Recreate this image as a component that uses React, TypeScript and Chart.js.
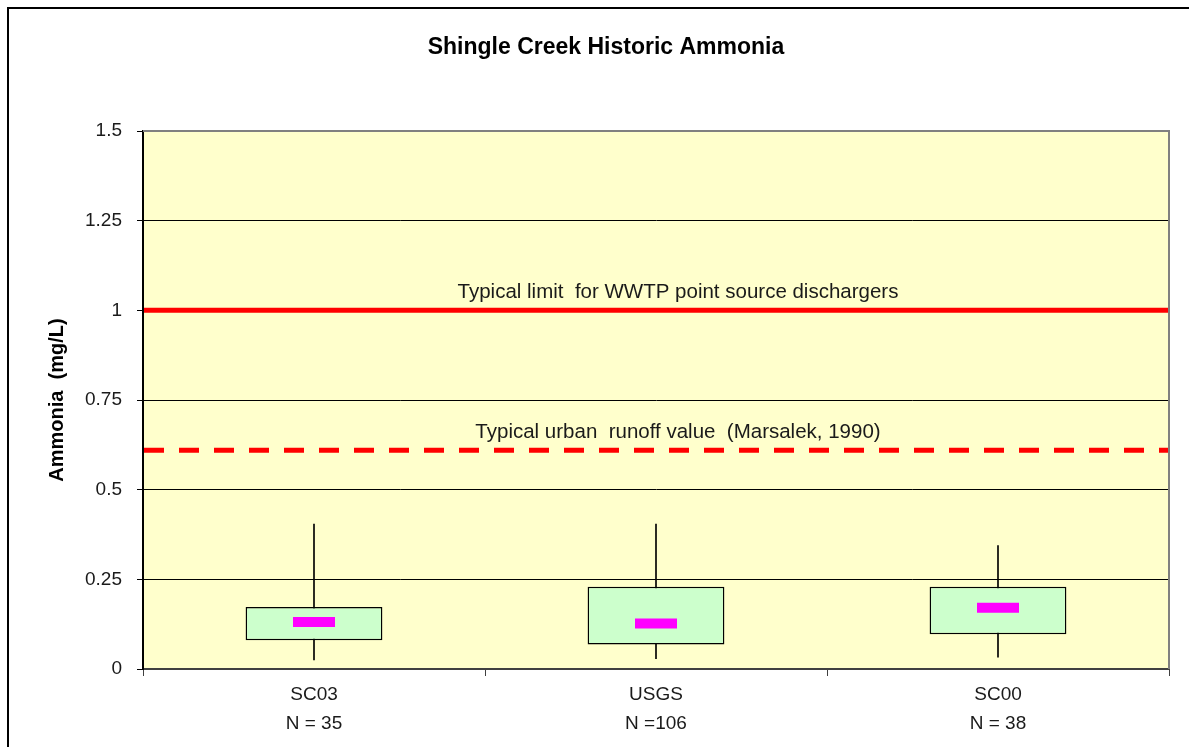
import React, { useEffect, useRef } from "react";
import { Chart, registerables } from "chart.js";

Chart.register(...registerables);

// ---- data ----
const categories = [
  ["SC03", "N = 35"],
  ["USGS", "N =106"],
  ["SC00", "N = 38"],
];
const whiskerLow = [0.025, 0.029, 0.033];
const whiskerHigh = [0.404, 0.404, 0.344];
const q1 = [0.08, 0.068, 0.097];
const q3 = [0.173, 0.229, 0.229];
const medians = [0.131, 0.127, 0.171];
const refValues = [1.0, 0.61];
const refLabels = [
  "Typical limit  for WWTP point source dischargers",
  "Typical urban  runoff value  (Marsalek, 1990)",
];
const yTickValues = [0, 0.25, 0.5, 0.75, 1, 1.25, 1.5];
const yTickLabels = ["0", "0.25", "0.5", "0.75", "1", "1.25", "1.5"];

const FONT = "'Liberation Sans', Arial, Helvetica, sans-serif";

const decorPlugin = {
  id: "decor",
  beforeDraw(chart: any) {
    const { ctx, chartArea: a } = chart;
    ctx.save();
    ctx.fillStyle = "#ffffff";
    ctx.fillRect(0, 0, chart.width, chart.height);
    ctx.fillStyle = "#FFFFCC";
    ctx.fillRect(a.left, a.top, a.right - a.left, a.bottom - a.top);
    ctx.restore();
  },
  beforeDatasetsDraw(chart: any) {
    const { ctx, chartArea: a } = chart;
    const y = chart.scales.y;
    ctx.save();
    refValues.forEach((v, i) => {
      const py = y.getPixelForValue(v);
      ctx.strokeStyle = "#FF0000";
      ctx.lineWidth = 5;
      ctx.setLineDash(i === 1 ? [20, 15] : []);
      ctx.beginPath();
      ctx.moveTo(a.left + 1, py);
      ctx.lineTo(a.right, py);
      ctx.stroke();
      ctx.setLineDash([]);
      ctx.font = `20.5px ${FONT}`;
      ctx.fillStyle = "#1a1a1a";
      ctx.textAlign = "center";
      ctx.textBaseline = "alphabetic";
      ctx.fillText(refLabels[i], (a.left + a.right) / 2 + 22, py - 12.5);
    });
    ctx.restore();
  },
  afterDraw(chart: any) {
    const { ctx, chartArea: a } = chart;
    ctx.save();
    ctx.strokeStyle = "#808080";
    ctx.lineWidth = 2;
    ctx.beginPath();
    ctx.moveTo(a.left, a.top);
    ctx.lineTo(a.right, a.top);
    ctx.lineTo(a.right, a.bottom);
    ctx.stroke();
    ctx.strokeStyle = "#000000";
    ctx.lineWidth = 2;
    ctx.strokeRect(8, 8, 1200, 760);
    ctx.restore();
  },
};

export default function App() {
  const ref = useRef<HTMLCanvasElement | null>(null);

  useEffect(() => {
    document.body.style.margin = "0";
    document.body.style.overflow = "hidden";
    const canvas = ref.current;
    if (!canvas) return;
    Chart.defaults.font.family = FONT;

    const chart = new Chart(canvas, {
      type: "bar",
      data: {
        labels: categories as any,
        datasets: [
          {
            type: "bar",
            label: "whiskers",
            data: whiskerLow.map((v, i) => [v, whiskerHigh[i]]) as any,
            backgroundColor: "#000000",
            barThickness: 1,
            grouped: false,
            order: 3,
          } as any,
          {
            type: "bar",
            label: "box",
            data: q1.map((v, i) => [v, q3[i]]) as any,
            backgroundColor: "#CCFFCC",
            borderColor: "#000000",
            borderWidth: 1.5,
            borderSkipped: false,
            barPercentage: 0.4,
            categoryPercentage: 1,
            grouped: false,
            order: 2,
          } as any,
          {
            type: "line",
            label: "median",
            data: medians,
            showLine: false,
            pointStyle: "line",
            pointRadius: 21,
            pointHoverRadius: 21,
            pointBorderWidth: 10,
            pointHoverBorderWidth: 10,
            pointBorderColor: "#FF00FF",
            pointBackgroundColor: "#FF00FF",
            order: 1,
          } as any,
        ],
      },
      options: {
        responsive: false,
        animation: false,
        events: [],
        layout: { autoPadding: false, padding: { left: 43, right: 20, top: 0, bottom: 0 } },
        plugins: {
          legend: { display: false },
          tooltip: { enabled: false },
          title: {
            display: true,
            text: "Shingle Creek Historic Ammonia",
            color: "#000000",
            font: { size: 23, weight: "bold", family: FONT },
            padding: { top: 34, bottom: 69.4 },
          },
        },
        scales: {
          x: {
            type: "category",
            offset: true,
            grid: {
              drawOnChartArea: false,
              drawTicks: true,
              tickLength: 7,
              color: "#404040",
              offset: true,
            },
            border: { color: "#404040", width: 2 },
            ticks: {
              color: "#1a1a1a",
              font: { size: 19, family: FONT, lineHeight: 1.526 },
              padding: 4,
              maxRotation: 0,
              autoSkip: false,
            },
            afterFit(s: any) {
              s.height = 78;
              s.paddingLeft = 0;
              s.paddingRight = 0;
            },
          },
          y: {
            min: 0,
            max: 1.5,
            ticks: {
              stepSize: 0.25,
              color: "#1a1a1a",
              font: { size: 19, family: FONT },
              padding: 15,
              callback(value: any) {
                const idx = yTickValues.findIndex((t) => Math.abs(t - Number(value)) < 1e-9);
                return idx >= 0 ? yTickLabels[idx] : "";
              },
            },
            grid: {
              color: (c: any) => (c.tick && c.tick.value === 1.5 ? "#808080" : "#000000"),
              tickColor: "#000000",
              lineWidth: 1,
              tickLength: 6,
            },
            border: { color: "#000000", width: 2 },
            title: {
              display: true,
              text: "Ammonia  (mg/L)",
              color: "#000000",
              font: { size: 20, weight: "bold", family: FONT },
              padding: { top: 2, bottom: 0 },
            },
            afterFit(s: any) {
              s.width = 100;
            },
          },
        },
      } as any,
      plugins: [decorPlugin],
    });

    return () => chart.destroy();
  }, []);

  return (
    <div style={{ width: 1189, height: 747 }}>
      <canvas ref={ref} width={1189} height={747} style={{ display: "block" }} />
    </div>
  );
}
